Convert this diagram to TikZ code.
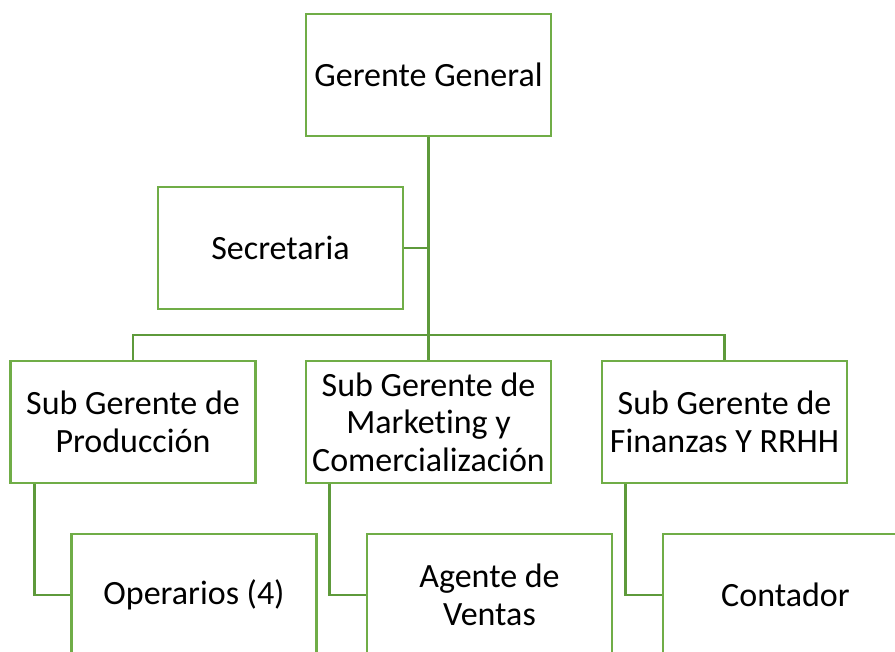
\documentclass[tikz,border=0pt]{standalone}
\usepackage{fontspec}
\setmainfont{Carlito}[Ligatures=NoCommon]
\usepackage{tikz}

\definecolor{boxgreen}{HTML}{70AD47}
\definecolor{linkgreen}{HTML}{5E9A3B}

\tikzset{
  orgbox/.style={draw=boxgreen, line width=2.8pt, fill=white,
    minimum width=245pt, minimum height=122pt, inner sep=2pt,
    align=center, font=\fontsize{34}{37.5}\selectfont},
  orglink/.style={draw=linkgreen, line width=2.8pt}
}

\begin{document}
\begin{tikzpicture}[x=1pt, y=-1pt]
  \useasboundingbox (0,0) rectangle (895,652);
  \clip (0,0) rectangle (895,652);

  \node[orgbox] (gg)  at (428.5,75)  {Gerente General};
  \node[orgbox] (sec) at (280.5,248) {Secretaria};
  \node[orgbox] (prod) at (133,422)   {Sub Gerente de\\Producción};
  \node[orgbox] (mkt)  at (428.5,422) {Sub Gerente de\\Marketing y\\Comercialización};
  \node[orgbox] (fin)  at (724.5,422) {Sub Gerente de\\Finanzas Y RRHH};
  \node[orgbox] (oper) at (194,595)   {Operarios (4)};
  \node[orgbox] (vent) at (489.5,595) {Agente de\\Ventas};
  \node[orgbox] (cont) at (785.5,595) {Contador};

  % main trunk
  \coordinate (bar) at (428.5,335);
  \draw[orglink] (gg.south) -- (bar);
  \draw[orglink] (sec.east) -- (sec.east -| gg.south);
  \draw[orglink] (prod.north) |- (bar) -| (fin.north);
  \draw[orglink] (mkt.north) -- (bar);

  % sub branches
  \foreach \up/\down in {prod/oper, mkt/vent, fin/cont} {
    \coordinate (\up-drop) at ([xshift=25pt]\up.south west);
    \draw[orglink] (\up-drop) |- (\down.west);
  }
\end{tikzpicture}
\end{document}
